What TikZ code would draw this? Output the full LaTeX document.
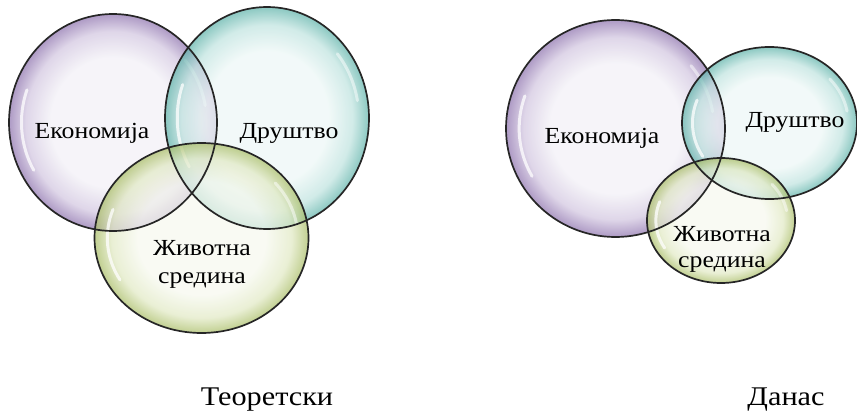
\documentclass[tikz,border=0pt]{standalone}
\usepackage{fontspec}
\setmainfont[FakeStretch=1.12]{Liberation Serif}
\definecolor{pin}{HTML}{F2F0F6}
\definecolor{pmid}{HTML}{D2C6E0}
\definecolor{pout}{HTML}{8E73AE}
\definecolor{tin}{HTML}{EDF7F6}
\definecolor{tmid}{HTML}{BFE3DF}
\definecolor{tout}{HTML}{5FB3AA}
\definecolor{gin}{HTML}{F6F8EE}
\definecolor{gmid}{HTML}{E1E9C4}
\definecolor{gout}{HTML}{A9BD66}
\pgfdeclareradialshading{bubP}{\pgfpoint{0bp}{0bp}}{color(0bp)=(pin); color(15bp)=(pin); color(21bp)=(pmid); color(25bp)=(pout); color(50bp)=(pout)}
\pgfdeclareradialshading{bubT}{\pgfpoint{0bp}{0bp}}{color(0bp)=(tin); color(15bp)=(tin); color(21bp)=(tmid); color(25bp)=(tout); color(50bp)=(tout)}
\pgfdeclareradialshading{bubG}{\pgfpoint{0bp}{0bp}}{color(0bp)=(gin); color(15bp)=(gin); color(21bp)=(gmid); color(25bp)=(gout); color(50bp)=(gout)}
\tikzset{
  bubfill/.style={fill opacity=0.72},
  bubline/.style={draw=black!85, line width=1.7pt},
  glint/.style={draw=white, line width=3pt, draw opacity=0.75, line cap=round},
  lbl/.style={font=\fontsize{23}{26}\selectfont, inner sep=0pt, anchor=base},
  title/.style={font=\fontsize{27}{30}\selectfont, inner sep=0pt, anchor=base},
}
\newcommand{\bubble}[5]{% center, rx, ry, shading
  \shade[shading=#5, bubfill] (#1,#2) ellipse [x radius=#3, y radius=#4];
  \draw[glint] ($(#1,#2)+(150:{0.88*#3} and {0.88*#4})$) arc [start angle=150, end angle=200, x radius={0.88*#3}, y radius={0.88*#4}];
  \draw[glint, draw opacity=0.5] ($(#1,#2)+(-40:{0.9*#3} and {0.9*#4})$) arc [start angle=-40, end angle=-10, x radius={0.9*#3}, y radius={0.9*#4}];
}
\usetikzlibrary{calc}
\begin{document}
\begin{tikzpicture}[x=1pt, y=-1pt]
\useasboundingbox (0,0) rectangle (857,412);
% left diagram
\bubble{113}{122.5}{104}{108.5}{bubP}
\bubble{267}{118}{102}{111}{bubT}
\bubble{201.5}{238}{107}{95}{bubG}
% right diagram
\bubble{615.5}{128.5}{109.5}{108.5}{bubP}
\bubble{769.5}{123}{87.5}{76}{bubT}
\bubble{721}{220.5}{74}{62.5}{bubG}
% borders
\draw[bubline] (113,122.5) ellipse [x radius=104, y radius=108.5];
\draw[bubline] (267,118) ellipse [x radius=102, y radius=111];
\draw[bubline] (201.5,238) ellipse [x radius=107, y radius=95];
\draw[bubline] (615.5,128.5) ellipse [x radius=109.5, y radius=108.5];
\draw[bubline] (769.5,123) ellipse [x radius=87.5, y radius=76];
\draw[bubline] (721,220.5) ellipse [x radius=74, y radius=62.5];
% labels
\node[lbl] (le) at (92,138) {Економија};
\node[lbl] (ld) at (289,138) {Друштво};
\node[lbl] (lz1) at (202,255) {Животна};
\node[lbl] (lz2) at (202,283) {средина};
\node[lbl] (re) at (602,143) {Економија};
\node[lbl] (rd) at (795,128) {Друштво};
\node[lbl] (rz1) at (722,241) {Животна};
\node[lbl] (rz2) at (722,267) {средина};
\node[title] (t1) at (267,405) {Теоретски};
\node[title] (t2) at (786,405) {Данас};
\end{tikzpicture}
\end{document}
